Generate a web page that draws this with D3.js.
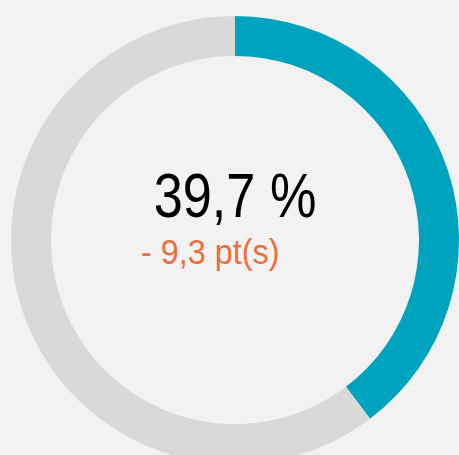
<!DOCTYPE html>
<html>
<head>
<meta charset="utf-8">
<script src="https://cdn.jsdelivr.net/npm/d3@7"></script>
<style>
  html, body { margin: 0; padding: 0; background: #f2f2f2; }
  svg { display: block; }
  .value { font-family: "Liberation Sans", Arial, sans-serif; fill: #000; }
  .delta { font-family: "Liberation Sans", Arial, sans-serif; fill: #ea6f3a; }
</style>
</head>
<body>
<div id="chart"></div>
<script>
// Single-value donut gauge: share filled in teal, remainder in grey.
const categories = ["share", "rest"];
const values = [39.7, 60.3];
const valueLabel = "39,7 %";
const deltaLabel = "- 9,3 pt(s)";
const colors = ["#00a3bd", "#d9d9d9"];

const width = 459, height = 455;
const cx = 235, cy = 240;
const rOuter = 224, rInner = 184;

const svg = d3.select("#chart").append("svg")
  .attr("width", width).attr("height", height);
svg.append("rect").attr("width", width).attr("height", height).attr("fill", "#f2f2f2");

const g = svg.append("g").attr("transform", `translate(${cx},${cy})`);

const pie = d3.pie().sort(null).value((d) => d);
const arc = d3.arc().innerRadius(rInner).outerRadius(rOuter);
const color = d3.scaleOrdinal(categories, colors);

g.selectAll("path").data(pie(values)).join("path")
  .attr("d", arc)
  .attr("fill", (d, i) => color(categories[i]));

// narrow look: the original uses a condensed face, squeeze horizontally
g.append("text").attr("class", "value")
  .attr("transform", "translate(0,-23) scale(0.83,1)")
  .attr("text-anchor", "middle")
  .attr("font-size", 63)
  .text(valueLabel);

g.append("text").attr("class", "delta")
  .attr("transform", "translate(-94,24) scale(0.9,1)")
  .attr("text-anchor", "start")
  .attr("font-size", 36)
  .text(deltaLabel);
</script>
</body>
</html>
